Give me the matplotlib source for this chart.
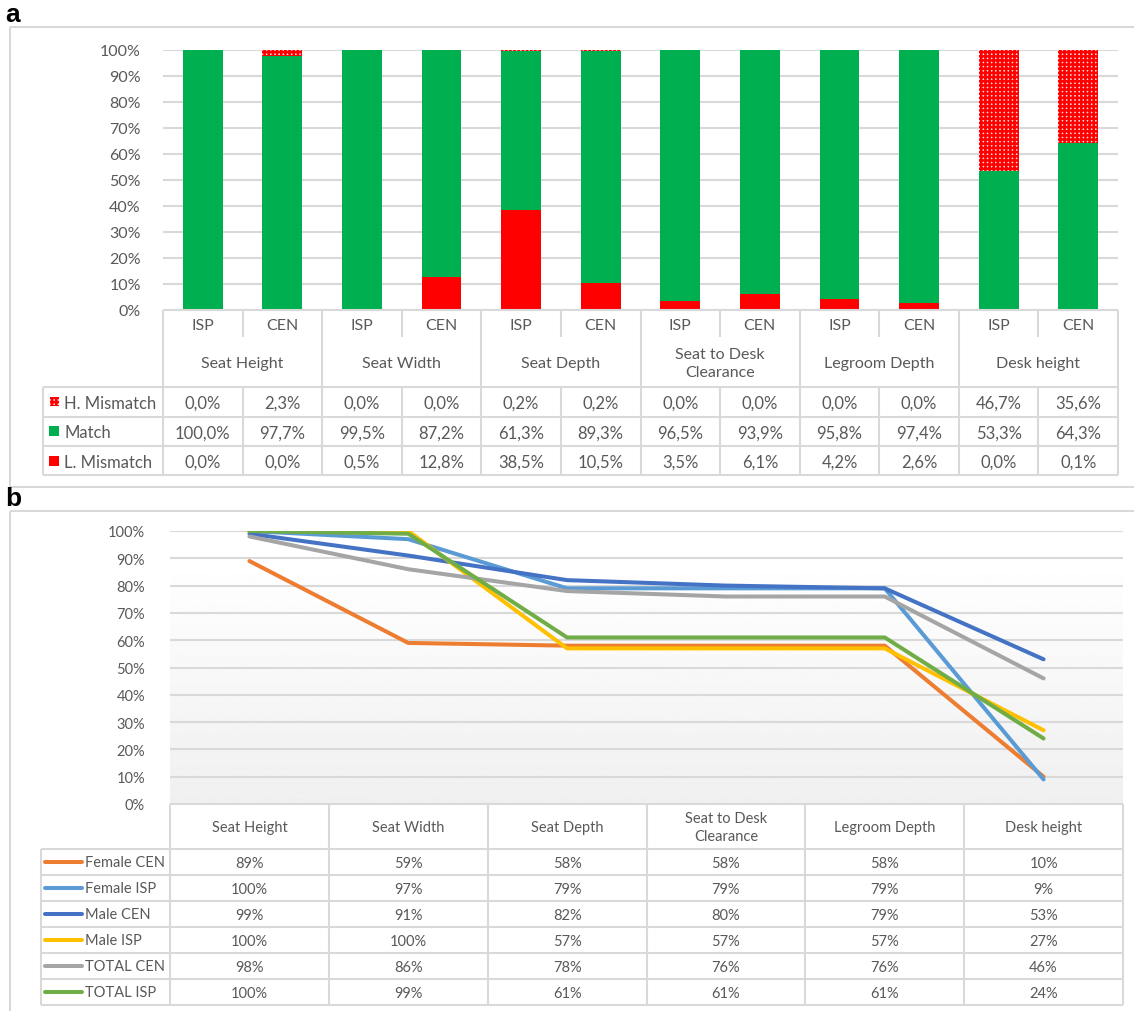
import numpy as np
import matplotlib
matplotlib.use("Agg")
import matplotlib.pyplot as plt
from matplotlib.patches import Rectangle

plt.rcParams['font.family'] = ['Lato', 'DejaVu Sans']
plt.rcParams['hatch.linewidth'] = 1.8

# ---------------- data (panel a) ----------------
groups_a = ['Seat Height', 'Seat Width', 'Seat Depth', 'Seat to Desk\nClearance',
            'Legroom Depth', 'Desk height']
sub_a = ['ISP', 'CEN']
h_mismatch = [0.0, 2.3, 0.0, 0.0, 0.2, 0.2, 0.0, 0.0, 0.0, 0.0, 46.7, 35.6]
match = [100.0, 97.7, 99.5, 87.2, 61.3, 89.3, 96.5, 93.9, 95.8, 97.4, 53.3, 64.3]
l_mismatch = [0.0, 0.0, 0.5, 12.8, 38.5, 10.5, 3.5, 6.1, 4.2, 2.6, 0.0, 0.1]
series_a = ['H. Mismatch', 'Match', 'L. Mismatch']

# ---------------- data (panel b) ----------------
groups_b = ['Seat Height', 'Seat Width', 'Seat Depth', 'Seat to Desk\nClearance',
            'Legroom Depth', 'Desk height']
female_cen = [89, 59, 58, 58, 58, 10]
female_isp = [100, 97, 79, 79, 79, 9]
male_cen = [99, 91, 82, 80, 79, 53]
male_isp = [100, 100, 57, 57, 57, 27]
total_cen = [98, 86, 78, 76, 76, 46]
total_isp = [100, 99, 61, 61, 61, 24]
names_b = ['Female CEN', 'Female ISP', 'Male CEN', 'Male ISP', 'TOTAL CEN', 'TOTAL ISP']
colors_b = ['#ED7D31', '#5B9BD5', '#4472C4', '#FFC000', '#A5A5A5', '#70AD47']

W, H = 1134, 1012
GREEN, RED = '#00B050', '#FF0000'
PINK = '#FFD6D6'
GRID = '#D9D9D9'
TXT = '#595959'

fig = plt.figure(figsize=(W / 100, H / 100), dpi=100)


def add_px_axes(left, top, right, bottom):
    return fig.add_axes([left / W, 1 - bottom / H, (right - left) / W, (bottom - top) / H])


# ---------------- panel a chart ----------------
a_l, a_t, a_r, a_b = 163, 51, 1118, 311
ax1 = add_px_axes(a_l, a_t, a_r, a_b)
n = len(match)
x = np.arange(n)
lo = np.array(l_mismatch) / 100
mid = np.array(match) / 100
hi = np.array(h_mismatch) / 100
ax1.bar(x, lo, width=0.5, color=RED, zorder=3)
ax1.bar(x, mid, width=0.5, bottom=lo, color=GREEN, zorder=3)
ax1.bar(x, hi, width=0.5, bottom=lo + mid, facecolor=PINK, edgecolor=RED,
        hatch='++++', linewidth=0, zorder=3)
ax1.set_xlim(-0.5, n - 0.5)
ax1.set_ylim(0, 1)
ax1.set_yticks(np.arange(0, 1.01, 0.1))
ax1.set_yticklabels([f'{int(round(v * 100))}%' for v in np.arange(0, 1.01, 0.1)])
ax1.tick_params(axis='y', length=0, labelsize=11.5, labelcolor=TXT, pad=16)
ax1.set_xticks([])
ax1.grid(axis='y', color=GRID, lw=1.5, zorder=0)
for s in ax1.spines.values():
    s.set_visible(False)

# ---------------- panel b chart ----------------
b_l, b_t, b_r, b_b = 170, 532, 1123, 805
ax2 = add_px_axes(b_l, b_t, b_r, b_b)
m = len(groups_b)
xb = np.arange(m)
ax2.set_xlim(-0.5, m - 0.5)
ax2.set_ylim(0, 1)
grad = np.linspace(0.94, 1.0, 256).reshape(-1, 1)
ax2.imshow(grad, extent=[-0.5, m - 0.5, 0, 0.9], aspect='auto', cmap='gray',
           vmin=0, vmax=1, origin='lower', zorder=0)
for vals, c in zip([female_cen, female_isp, male_cen, male_isp, total_cen, total_isp], colors_b):
    ax2.plot(xb, np.array(vals) / 100, color=c, lw=2.9, zorder=3, solid_capstyle='round')
ax2.set_yticks(np.arange(0, 1.01, 0.1))
ax2.set_yticklabels([f'{int(round(v * 100))}%' for v in np.arange(0, 1.01, 0.1)])
ax2.tick_params(axis='y', length=0, labelsize=10.5, labelcolor=TXT, pad=18)
ax2.set_xticks([])
ax2.grid(axis='y', color=GRID, lw=1.5, zorder=1)
for s in ax2.spines.values():
    s.set_visible(False)

# ---------------- overlay (frames and tables) in pixel coords ----------------
ov = fig.add_axes([0, 0, 1, 1])
ov.set_xlim(0, W)
ov.set_ylim(H, 0)
ov.axis('off')
ov.patch.set_visible(False)


def hline(y, x0, x1, lw=1.5):
    ov.plot([x0, x1], [y, y], color=GRID, lw=lw, solid_capstyle='butt')


def vline(xp, y0, y1, lw=1.5):
    ov.plot([xp, xp], [y0, y1], color=GRID, lw=lw, solid_capstyle='butt')


# panel frames and labels
ov.add_patch(Rectangle((10, 28), 1140, 460, fill=False, edgecolor=GRID, lw=1.5))
ov.add_patch(Rectangle((10, 512), 1140, 520, fill=False, edgecolor=GRID, lw=1.5))
ov.text(5, 15, 'a', fontsize=19, fontweight='bold', family='Liberation Sans',
        va='center', ha='left', color='black')
ov.text(5, 499, 'b', fontsize=19, fontweight='bold', family='Liberation Sans',
        va='center', ha='left', color='black')

# table a
cw = (a_r - a_l) / n
rows_a = [388, 417.5, 447, 476]
leg_l_a = 43
hline(a_b, a_l, a_r)
for k in range(n + 1):
    xp = a_l + k * cw
    vline(xp, a_b, 338)
    if k % 2 == 0:
        vline(xp, 338, rows_a[-1])
    else:
        vline(xp, rows_a[0], rows_a[-1])
for yv in rows_a:
    hline(yv, leg_l_a, a_r)
vline(leg_l_a, rows_a[0], rows_a[-1])
for k in range(n):
    ov.text(a_l + (k + 0.5) * cw, 326, sub_a[k % 2], ha='center', va='center',
            fontsize=11.5, color=TXT)
for g, name in enumerate(groups_a):
    ov.text(a_l + (2 * g + 1) * cw, 364, name, ha='center', va='center',
            fontsize=11.5, color=TXT, linespacing=1.45)
for r, (name, vals) in enumerate(zip(series_a, [h_mismatch, match, l_mismatch])):
    yc = (rows_a[r] + rows_a[r + 1]) / 2
    if r == 0:
        ov.add_patch(Rectangle((50, yc - 4.5), 9, 9, facecolor=PINK, edgecolor=RED,
                               hatch='++++', lw=0))
    else:
        ov.add_patch(Rectangle((49, yc - 5), 10, 10, facecolor=[GREEN, RED][r - 1], lw=0))
    ov.text(64, yc + 1, name, ha='left', va='center', fontsize=12, color=TXT)
    for k, v in enumerate(vals):
        ov.text(a_l + (k + 0.5) * cw, yc + 1, f'{v:.1f}%'.replace('.', ','),
                ha='center', va='center', fontsize=12, color=TXT)

# table b
cwb = (b_r - b_l) / m
rows_b = [850, 876, 902, 928, 954, 980, 1006]
leg_l_b = 41
hline(b_b, b_l, b_r)
for k in range(m + 1):
    vline(b_l + k * cwb, b_b, rows_b[-1])
for yv in rows_b:
    hline(yv, leg_l_b, b_r)
vline(leg_l_b, rows_b[0], rows_b[-1])
for g, name in enumerate(groups_b):
    ov.text(b_l + (g + 0.5) * cwb, 828, name, ha='center', va='center',
            fontsize=10.5, color=TXT, linespacing=1.3)
for r, (name, vals) in enumerate(zip(names_b, [female_cen, female_isp, male_cen,
                                                male_isp, total_cen, total_isp])):
    yc = (rows_b[r] + rows_b[r + 1]) / 2
    ov.plot([45, 82], [yc, yc], color=colors_b[r], lw=2.9, solid_capstyle='round')
    ov.text(85, yc, name, ha='left', va='center', fontsize=10.5, color=TXT)
    for k, v in enumerate(vals):
        ov.text(b_l + (k + 0.5) * cwb, yc + 1, f'{v}%', ha='center', va='center',
                fontsize=10.5, color=TXT)

fig.savefig('out.png', dpi=100)
